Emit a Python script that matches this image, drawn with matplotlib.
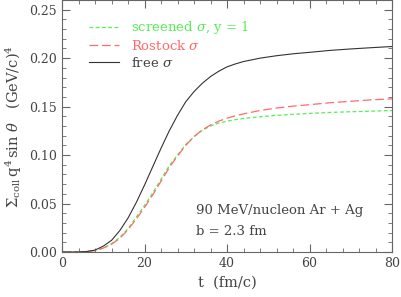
import numpy as np
import matplotlib
matplotlib.use('Agg')
import matplotlib.pyplot as plt
from matplotlib.ticker import MultipleLocator

plt.rcParams['font.family'] = ['DejaVu Serif']
plt.rcParams['mathtext.fontset'] = 'dejavuserif'

# values
t = [0, 4, 6, 8, 10, 12, 14, 16, 18, 20, 22, 24, 26, 28, 30, 32, 34, 36, 38, 40,
     42, 44, 48, 52, 56, 60, 65, 70, 75, 80]
free_s = [0, 0, 0.0005, 0.002, 0.006, 0.012, 0.022, 0.035, 0.051, 0.069, 0.088, 0.107,
          0.125, 0.141, 0.155, 0.1655, 0.174, 0.181, 0.1865, 0.191, 0.194, 0.1965, 0.200,
          0.2025, 0.2045, 0.206, 0.208, 0.2095, 0.2108, 0.212]
rostock = [0, 0, 0.0003, 0.0015, 0.004, 0.008, 0.014, 0.023, 0.034, 0.046, 0.059, 0.073,
           0.087, 0.099, 0.110, 0.119, 0.126, 0.131, 0.135, 0.138, 0.1405, 0.1425, 0.146,
           0.1485, 0.1505, 0.152, 0.154, 0.1555, 0.157, 0.158]
screened = [0, 0, 0.0003, 0.0015, 0.004, 0.0085, 0.015, 0.024, 0.036, 0.048, 0.061, 0.075,
            0.089, 0.100, 0.111, 0.119, 0.1255, 0.130, 0.133, 0.135, 0.1365, 0.1378, 0.1395,
            0.141, 0.142, 0.143, 0.144, 0.1447, 0.1453, 0.146]

fig = plt.figure(figsize=(4.01, 2.97), dpi=100)
ax = fig.add_axes([62/401, 45/297, 330/401, 252/297])

txt = '#444444'
ax.plot(t, screened, color='#55ee55', lw=0.9, dashes=(3, 2), label=r'screened $\sigma$, y = 1')
ax.plot(t, rostock, color='#ff6b6b', lw=0.9, dashes=(7, 3), label=r'Rostock $\sigma$')
ax.plot(t, free_s, color='#333333', lw=0.8, label=r'free $\sigma$')

ax.set_xlim(0, 80)
ax.set_ylim(0, 0.26)
ax.xaxis.set_major_locator(MultipleLocator(20))
ax.xaxis.set_minor_locator(MultipleLocator(4))
ax.yaxis.set_major_locator(MultipleLocator(0.05))
ax.yaxis.set_minor_locator(MultipleLocator(0.01))
ax.yaxis.set_major_formatter(matplotlib.ticker.FormatStrFormatter('%.2f'))
ax.tick_params(which='both', direction='in', top=True, right=True, colors='#666666',
               labelcolor=txt, labelsize=9)
ax.tick_params(which='major', length=6, width=0.8)
ax.tick_params(which='minor', length=3, width=0.6)
for s in ax.spines.values():
    s.set_color('#666666')
    s.set_linewidth(0.8)

ax.set_xlabel('t  (fm/c)', color=txt, fontsize=10.5)
ax.set_ylabel(r'$\Sigma_{\rm coll}\,{\rm q}^4\,\sin\,\theta$   (GeV/c)$^4$', color=txt, fontsize=10.5)

leg = ax.legend(loc='upper left', frameon=False, fontsize=9.5, handlelength=2.3,
                handletextpad=0.9, bbox_to_anchor=(0.045, 0.97), labelspacing=0.2)
for line, text in zip(leg.get_lines(), leg.get_texts()):
    text.set_color(line.get_color())
leg.get_texts()[2].set_color(txt)

ax.text(0.405, 0.15, '90 MeV/nucleon Ar + Ag', transform=ax.transAxes, color=txt, fontsize=9.5)
ax.text(0.405, 0.068, 'b = 2.3 fm', transform=ax.transAxes, color=txt, fontsize=9.5)

fig.savefig('out.png', dpi=100)
